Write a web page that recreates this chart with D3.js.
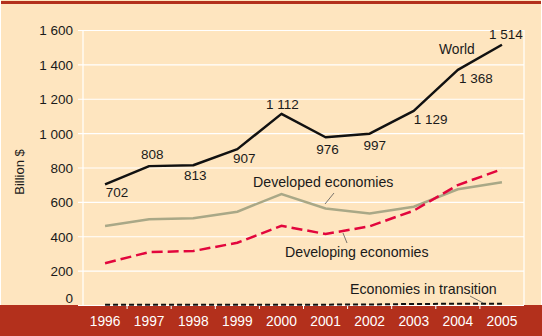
<!DOCTYPE html>
<html>
<head>
<meta charset="utf-8">
<script src="https://cdn.jsdelivr.net/npm/d3@7"></script>
<style>
  body { margin: 0; background: #fff; }
  svg { display: block; font-family: "Liberation Sans", Arial, Helvetica, sans-serif; }
</style>
</head>
<body>
<div id="chart"></div>
<script>
var years = [1996, 1997, 1998, 1999, 2000, 2001, 2002, 2003, 2004, 2005];
var world = [702, 808, 813, 907, 1112, 976, 997, 1129, 1368, 1514];
var developed = [460, 499, 505, 543, 646, 562, 533, 572, 673, 714];
var developing = [243, 308, 314, 362, 461, 413, 458, 549, 698, 790];
var transition = [1, 2, 1, 1, 2, 2, 3, 6, 7, 7];
var yTicks = [0, 200, 400, 600, 800, 1000, 1200, 1400, 1600];

var width = 542, height = 336;
var plotLeft = 83, plotRight = 524, plotTop = 30, plotBottom = 305;

var svg = d3.select("#chart").append("svg")
    .attr("width", width)
    .attr("height", height);

// cream panel, thin red rule on top, red band under the axis
svg.append("rect").attr("x", 1).attr("y", 0).attr("width", 540).attr("height", height)
    .attr("fill", "#fee5bf");
svg.append("rect").attr("x", 1).attr("y", 1).attr("width", 540).attr("height", 3)
    .attr("fill", "#b3301c");
svg.append("rect").attr("x", 0).attr("y", plotBottom).attr("width", width).attr("height", height - plotBottom)
    .attr("fill", "#b3301c");

var x = d3.scaleBand().domain(years).range([plotLeft, plotRight]);
var y = d3.scaleLinear().domain([0, 1600]).range([plotBottom, plotTop]);
var cx = function(i) { return x(years[i]) + x.bandwidth() / 2; };

var fmt = function(v) { return d3.format(",")(v).replace(/,/g, " "); };

// y axis: white gridlines with little ticks out to the left
var yAxis = svg.append("g")
    .attr("transform", "translate(" + plotLeft + ",0)")
    .call(d3.axisLeft(y).tickValues(yTicks).tickSize(-(plotRight - plotLeft)).tickPadding(10).tickFormat(fmt));
yAxis.select(".domain").remove();
yAxis.selectAll(".tick line").attr("stroke", "#fff").attr("stroke-width", 1.2).attr("x1", -5);
yAxis.selectAll(".tick text").attr("fill", "#1a1a1a").style("font-size", "13.5px")
    .attr("dy", function(d) { return d === 0 ? "-0.15em" : "0.36em"; });

// frame verticals
svg.append("line").attr("x1", plotLeft).attr("x2", plotLeft).attr("y1", plotTop).attr("y2", plotBottom)
    .attr("stroke", "#fff").attr("stroke-width", 1.2);
svg.append("line").attr("x1", plotRight).attr("x2", plotRight).attr("y1", plotTop).attr("y2", plotBottom)
    .attr("stroke", "#fff").attr("stroke-width", 1.2);

// x axis: ticks at band edges, year labels white on the red band
var xAxis = svg.append("g")
    .attr("transform", "translate(0," + plotBottom + ")")
    .call(d3.axisBottom(x).tickSize(0).tickPadding(11));
xAxis.select(".domain").remove();
xAxis.selectAll(".tick text").attr("fill", "#fff").style("font-size", "13.8px");
svg.append("g").selectAll("line")
    .data(years.slice(1))
    .join("line")
    .attr("x1", function(d) { return x(d); })
    .attr("x2", function(d) { return x(d); })
    .attr("y1", plotBottom).attr("y2", plotBottom + 4)
    .attr("stroke", "#fff").attr("stroke-width", 1);

svg.append("text")
    .attr("transform", "translate(24,172) rotate(-90)")
    .attr("text-anchor", "middle")
    .style("font-size", "13px")
    .attr("fill", "#1a1a1a")
    .text("Billion $");

var line = d3.line()
    .x(function(d, i) { return cx(i); })
    .y(function(d) { return y(d); });

svg.append("path").datum(transition).attr("d", line)
    .attr("fill", "none").attr("stroke", "#111").attr("stroke-width", 2)
    .attr("stroke-dasharray", "5,3");
svg.append("path").datum(developed).attr("d", line)
    .attr("fill", "none").attr("stroke", "#a9a887").attr("stroke-width", 2.5);
svg.append("path").datum(developing).attr("d", line)
    .attr("fill", "none").attr("stroke", "#e2063d").attr("stroke-width", 2.5)
    .attr("stroke-dasharray", "11,5");
svg.append("path").datum(world).attr("d", line)
    .attr("fill", "none").attr("stroke", "#111").attr("stroke-width", 2.5)
    .attr("stroke-linejoin", "round");

// value labels on the World line: [dx, dy] from each point to the label baseline
var worldOffsets = [[12, 13], [3, -7], [2, 15], [7, 14], [1, -5], [2, 17], [5, 16], [17, 13], [18, 13], [4, -6]];
svg.append("g").selectAll("text")
    .data(world)
    .join("text")
    .attr("x", function(d, i) { return cx(i) + worldOffsets[i][0]; })
    .attr("y", function(d, i) { return y(d) + worldOffsets[i][1]; })
    .attr("text-anchor", "middle")
    .style("font-size", "13.5px")
    .attr("fill", "#1a1a1a")
    .text(fmt);

var labels = svg.append("g").style("font-size", "14.2px").attr("fill", "#1a1a1a");
labels.append("text").attr("x", 439).attr("y", 54).style("font-size", "13.8px").text("World");
labels.append("text").attr("x", 253).attr("y", 187).text("Developed economies");
labels.append("text").attr("x", 285).attr("y", 257).text("Developing economies");
labels.append("text").attr("x", 350).attr("y", 294).text("Economies in transition");

// leader lines from labels to their series
var leaders = [[334, 193, 325, 204], [343, 233, 347, 243], [470, 296, 483, 303]];
svg.append("g").selectAll("line")
    .data(leaders)
    .join("line")
    .attr("x1", function(d) { return d[0]; })
    .attr("y1", function(d) { return d[1]; })
    .attr("x2", function(d) { return d[2]; })
    .attr("y2", function(d) { return d[3]; })
    .attr("stroke", "#555").attr("stroke-width", 0.8);
</script>
</body>
</html>
